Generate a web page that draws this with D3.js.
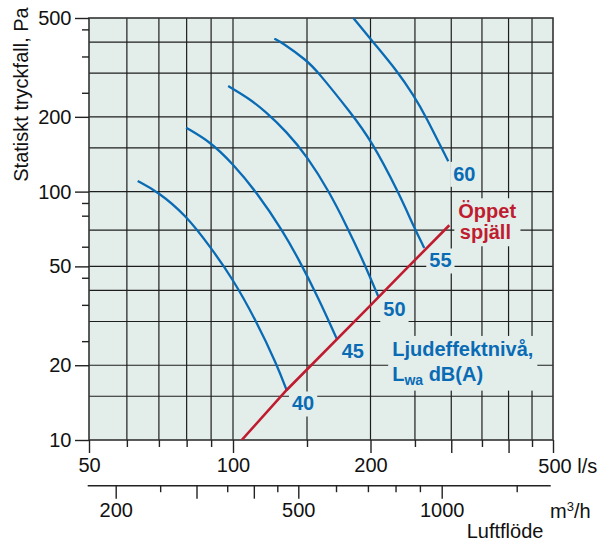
<!DOCTYPE html>
<html><head><meta charset="utf-8">
<script src="https://cdn.jsdelivr.net/npm/d3@7"></script>
<style>
body{margin:0;background:#fff}
svg{display:block}
text{font-family:"Liberation Sans",Arial,Helvetica,sans-serif}
</style>
</head><body>
<svg id="c" width="598" height="543"></svg>
<script>
// ---------- data ----------
const flowMajor = [50, 100, 200, 500];              // l/s, labelled
const flowLong = [300, 400];                        // l/s, long unlabelled ticks
const flowShort = [60, 70, 80, 90, 150, 250, 350, 450];
const flowGrid = [60, 70, 80, 90, 100, 150, 200, 250, 300, 350, 400, 450];
const m3hMajor = [200, 500, 1000];                  // m3/h, labelled
const m3hLong = [300, 400];
const m3hShort = [250, 350, 450, 600, 700, 800, 900, 1500];
const pressMajor = [10, 20, 50, 100, 200, 500];      // Pa, labelled
const pressMinor = [25, 35, 45, 60, 80, 90, 250, 350, 450];
const pressGrid = [15, 20, 30, 40, 50, 70, 100, 150, 200, 300, 400];
const soundLevels = ["40", "45", "50", "55", "60"];
const curve40 = [[63.2,110.3],[69.6,100],[79.6,80.6],[89.6,60],[99.7,44.8],[113.4,30.3],[127.2,20.1],[134.4,15.75]];
const curve45 = [[79.8,180.8],[89.6,158.8],[99.7,130.1],[113.9,99.4],[131.8,68.8],[143.2,53.5],[157.7,37.6],[171.6,25.6]];
const curve50 = [[97.7,266],[109.8,235.6],[119.2,210.6],[134.4,173.8],[150,138.7],[165.9,99.9],[179.5,72.7],[193.6,52.5],[208,37.8]];
const curve55 = [[125.4,412.6],[130.6,399],[150,336.5],[156.7,307.8],[184.2,204],[200.2,161.8],[230,99.9],[249.2,71.4],[262,59.3]];
const curve60 = [[185,500],[202.8,399],[228.1,307.8],[249.2,241.9],[262.9,204],[295.5,132.4]];
const damperLine = [[104.9,10],[134.2,15.9],[200.2,34.9],[237.8,48.3],[297.1,73.2]];
const damperLabel = ["Öppet", "spjäll"];
const legendLine1 = "Ljudeffektnivå,";
const legendLine2 = ["L", "wa", " dB(A)"];
const legendAnchor = [223, 21.8];   // (l/s, Pa)
const yTitle = "Statiskt tryckfall, Pa";
const xUnit = "l/s";
const x2Unit = ["m", "3", "/h"];
const x2Title = "Luftflöde";

// ---------- styles ----------
const BG = "#e3eeeb", GRID = "#1e1e1e", BLUE = "#0a6bb5", RED = "#c01c30", INK = "#111";
const FONT = 20;

// ---------- scales ----------
const x = d3.scaleLog().domain([50, 100, 150, 200, 500]).range([89, 233, 307, 370.5, 553]);
const xm = d3.scaleLog().domain([200, 500, 1000, 1500]).range([115.7, 298.3, 441.7, 516.7]);
const y = d3.scaleLog().domain([10, 500]).range([440, 18]);
const X0 = x(50), X1 = x(500), Y0 = y(10), Y1 = y(500);
const X2Y = 485.7;

const svg = d3.select("#c");
svg.append("defs").append("clipPath").attr("id", "clip")
  .append("rect").attr("x", X0).attr("y", Y1).attr("width", X1 - X0).attr("height", Y0 - Y1);

svg.append("rect").attr("x", X0).attr("y", Y1).attr("width", X1 - X0).attr("height", Y0 - Y1).attr("fill", BG);

// grid
const gGrid = svg.append("g").attr("stroke", GRID).attr("stroke-width", 1.2);
gGrid.selectAll("line.v").data(flowGrid).join("line").attr("class", "v")
  .attr("x1", d => x(d)).attr("x2", d => x(d)).attr("y1", Y0).attr("y2", Y1);
gGrid.selectAll("line.h").data(pressGrid).join("line").attr("class", "h")
  .attr("x1", X0).attr("x2", X1).attr("y1", d => y(d)).attr("y2", d => y(d));

// border
svg.append("rect").attr("x", X0).attr("y", Y1).attr("width", X1 - X0).attr("height", Y0 - Y1)
  .attr("fill", "none").attr("stroke", "#333").attr("stroke-width", 1.6);

const gBoxes = svg.append("g");
const gCurves = svg.append("g").attr("clip-path", "url(#clip)");
const gText = svg.append("g");

// curves
const line = d3.line().x(d => x(d[0])).y(d => y(d[1])).curve(d3.curveBasis);
const curves = [curve40, curve45, curve50, curve55, curve60];
gCurves.selectAll("path.sound").data(curves).join("path").attr("class", "sound")
  .attr("d", line).attr("fill", "none").attr("stroke", BLUE).attr("stroke-width", 2.3);
gCurves.append("path").datum(damperLine).attr("d", d3.line().x(d => x(d[0])).y(d => y(d[1])))
  .attr("fill", "none").attr("stroke", RED).attr("stroke-width", 2.6);

// labels
const labelGroups = [];
curves.forEach((c, i) => {
  const last = c[c.length - 1];
  const t = gText.append("text").attr("x", x(last[0]) + 5).attr("y", y(last[1]) + 19.5)
    .attr("font-size", FONT).attr("font-weight", "bold").attr("fill", BLUE).text(soundLevels[i]);
  labelGroups.push([t, 3]);
});
const dEnd = damperLine[damperLine.length - 1];
const dl = gText.append("text").attr("font-size", FONT).attr("font-weight", "bold").attr("fill", RED);
dl.append("tspan").attr("x", x(dEnd[0]) + 9).attr("y", y(dEnd[1]) - 7).text(damperLabel[0]);
dl.append("tspan").attr("x", x(dEnd[0]) + 10.5).attr("y", y(dEnd[1]) + 14).text(damperLabel[1]);
labelGroups.push([dl, 4]);

const lg = gText.append("text").attr("font-size", FONT).attr("font-weight", "bold").attr("fill", BLUE);
const lx = x(legendAnchor[0]), ly = y(legendAnchor[1]);
lg.append("tspan").attr("x", lx).attr("y", ly).text(legendLine1);
lg.append("tspan").attr("x", lx).attr("y", ly + 24.7).text(legendLine2[0]);
lg.append("tspan").attr("dy", 4).attr("font-size", 14).text(legendLine2[1]);
lg.append("tspan").attr("dy", -4).text(legendLine2[2]);
labelGroups.push([lg, 4]);

labelGroups.forEach(([t, p]) => {
  const b = t.node().getBBox();
  gBoxes.append("rect").attr("x", b.x - p).attr("y", b.y - p + 2)
    .attr("width", b.width + 2 * p).attr("height", b.height + 2 * p - 3).attr("fill", BG);
});

// axes
function styleAxis(g) {
  g.select(".domain").remove();
  g.selectAll("line").attr("stroke", "#222").attr("stroke-width", 1.4);
  g.selectAll("text").attr("font-size", FONT).attr("fill", INK)
    .attr("font-family", '"Liberation Sans",Arial,Helvetica,sans-serif');
}
svg.append("g").attr("transform", `translate(0,${Y0})`)
  .call(d3.axisBottom(x).tickValues(flowMajor).tickSize(13).tickPadding(5).tickFormat(d => d === 500 ? "" : d))
  .call(styleAxis);
svg.append("g").attr("transform", `translate(0,${Y0})`)
  .call(d3.axisBottom(x).tickValues(flowLong).tickSize(13).tickFormat(""))
  .call(styleAxis);
svg.append("g").attr("transform", `translate(0,${Y0})`)
  .call(d3.axisBottom(x).tickValues(flowShort).tickSize(7).tickFormat(""))
  .call(styleAxis);
svg.append("text").attr("x", x(500) - 14.7).attr("y", Y0 + 32.5).attr("font-size", FONT).attr("fill", INK)
  .text("500 " + xUnit);

svg.append("g").attr("transform", `translate(${X0},0)`)
  .call(d3.axisLeft(y).tickValues(pressMajor).tickSize(14).tickPadding(3.5).tickFormat(d3.format("d")))
  .call(styleAxis);
svg.append("g").attr("transform", `translate(${X0},0)`)
  .call(d3.axisLeft(y).tickValues(pressMinor).tickSize(7).tickFormat(""))
  .call(styleAxis);

// secondary axis m3/h
svg.append("line").attr("x1", X0 - 1.3).attr("x2", X1 - 2.3).attr("y1", X2Y).attr("y2", X2Y)
  .attr("stroke", "#222").attr("stroke-width", 1.4);
svg.append("g").attr("transform", `translate(0,${X2Y})`)
  .call(d3.axisBottom(xm).tickValues(m3hMajor).tickSize(13).tickPadding(4.5).tickFormat(d3.format("d")))
  .call(styleAxis);
svg.append("g").attr("transform", `translate(0,${X2Y})`)
  .call(d3.axisBottom(xm).tickValues(m3hLong).tickSize(13).tickFormat(""))
  .call(styleAxis);
svg.append("g").attr("transform", `translate(0,${X2Y})`)
  .call(d3.axisBottom(xm).tickValues(m3hShort).tickSize(6.5).tickFormat(""))
  .call(styleAxis);

const u = svg.append("text").attr("x", 550).attr("y", 518.3).attr("font-size", FONT).attr("fill", INK);
u.append("tspan").text(x2Unit[0]);
u.append("tspan").attr("dy", -7.5).attr("font-size", 13).text(x2Unit[1]);
u.append("tspan").attr("dy", 7.5).text(x2Unit[2]);
svg.append("text").attr("x", 466.7).attr("y", 538).attr("font-size", FONT).attr("fill", INK).text(x2Title);

svg.append("text").attr("transform", "translate(28,94.5) rotate(-90)").attr("text-anchor", "middle")
  .attr("font-size", FONT).attr("fill", INK).text(yTitle);
</script>
</body></html>
